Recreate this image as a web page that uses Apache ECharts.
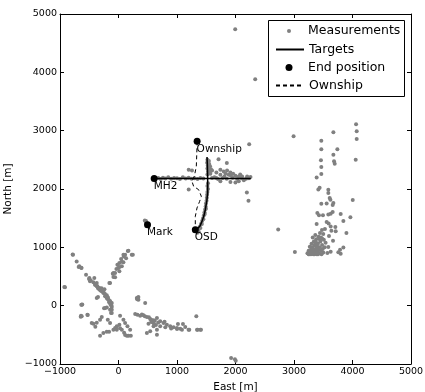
<!DOCTYPE html>
<html><head><meta charset="utf-8">
<script src="https://cdn.jsdelivr.net/npm/echarts@6/dist/echarts.min.js"></script>
<style>html,body{margin:0;padding:0;background:#fff}#c{width:425px;height:392px}</style>
</head><body><div id="c"></div>
<script>
// ---- data ----
const xTickValues = [-1000, 0, 1000, 2000, 3000, 4000, 5000];
const yTickValues = [-1000, 0, 1000, 2000, 3000, 4000, 5000];

const measLeft = [
 [-915,314],[-926,320],[-778,874],[-784,879],[-715,759],[-681,663],[-670,674],[-636,651],[-632,646],[-555,531],[-504,458],[-498,475],[-487,417],[-475,434],[-430,400],[-413,475],[-401,360],[-396,360],[-372,331],[-361,331],[-372,389],[-350,300],[-327,303],[-330,280],[-310,260],[-290,300],[-286,246],[-270,240],[-258,217],[-250,220],[-240,280],[-230,200],[-229,160],[-220,160],[-201,131],[-200,180],[-190,120],[-180,140],[-172,103],[-170,100],[-160,60],[-150,80],[-144,74],[-140,30],[-132,17],[-130,50],[-120,0],[-115,46],[-350,149],[-372,131],[-247,-46],[-229,-40],[-200,-30],[-115,-23],[-144,-69],[-115,-69],[-115,-126],[-127,-126],[-636,17],[-629,17],[-619,22],[-646,-189],[-629,-183],[-641,-171],[-526,-160],[-532,-154],[-458,-297],[-430,-309],[-396,-360],[-372,-291],[-315,-240],[-286,-194],[-315,-514],[-259,-468],[-201,-446],[-161,-446],[-183,-240],[-144,-297],[-87,-411],[-58,-382],[-29,-354],[-29,-411],[27,-389],[57,-411],[96,-463],[113,-503],[142,-514],[170,-514],[211,-514],[27,-171],[84,-240],[113,-297],[15,-326],[153,-354],[199,-411]
];
const measArm = [
 [159,937],[170,943],[113,874],[84,874],[227,874],[245,874],[91,845],[45,800],[130,811],[57,754],[84,743],[15,731],[15,663],[57,674],[-2,646],[-19,703],[-36,629],[15,589],[-58,560],[-87,560],[-98,549],[-87,491],[-58,486],[-144,389],[-156,389]
];
const measSouth = [
 [285,-142],[324,-154],[370,-171],[427,-166],[400,-150],[450,-180],[485,-194],[520,-200],[542,-228],[560,-240],[599,-251],[620,-260],[657,-211],[680,-290],[713,-269],[770,-297],[787,-274],[827,-326],[884,-354],[941,-371],[999,-382],[1056,-394],[1141,-365],[1198,-411],[1342,-411],[1399,-411],[1353,-411],[1410,-411],[1330,-183],[1210,-411],[1016,-314],[1102,-314],[713,-354],[800,-370],[900,-390],[1000,-400],[1085,-411],[313,131],[331,131],[341,103],[340,150],[320,110],[456,46],[513,-309],[560,-280],[600,-300],[599,-354],[640,-330],[657,-411],[542,-440],[657,-497],[485,-468],[1925,-897],[1990,-920],[2004,-943]
];
const measMH2 = [
 [680,2190],[720,2170],[760,2195],[800,2180],[850,2200],[900,2175],[950,2190],[1000,2185],[1050,2170],[1100,2200],[1150,2180],[1200,2195],[1250,2175],[1300,2185],[1350,2170],[1400,2190],[1450,2180],[1200,2330],[1256,2318],[1200,1990],
 [1599,2319],[1673,2285],[1741,2331],[1799,2302],[1856,2319],[1913,2285],[1959,2262],[1884,2245],[1999,2228],[2056,2216],[2113,2216],[2199,2216],[2256,2205],[1741,2131],[1913,2119],[1999,2113],[2056,2131],[2142,2148],[1599,2188],[1673,2188],[1741,2245],[1810,2216],[1640,2200],[1700,2170],[1780,2190],[1850,2175],[1950,2195],[2030,2170],[2100,2190],[2180,2175],[2230,2185],[1710,2512],[1852,2444],[2194,1941],[2222,1799],[1830,2260],[1920,2230],[2080,2250]
];
const measOSD = [
 [1520,2500],[1545,2480],[1515,2450],[1550,2430],[1525,2400],[1565,2390],[1520,2350],[1550,2350],[1580,2340],[1530,2300],[1560,2290],[1520,2250],[1570,2260],[1530,2100],[1520,2050],[1530,2000],[1520,1950],[1515,1900],[1510,1850],[1505,1800],[1495,1750],[1490,1700],[1480,1650],[1470,1600],[1460,1550],[1445,1500],[1430,1450],[1410,1400],[1385,1350],[1360,1300],[1340,1270],[1370,1270],[1400,1330],[1425,1400],[1450,1480],[1475,1570],[1495,1660],[1350,1250],[1330,1290]
];
const measMark = [
 [450,1460],[465,1440],[480,1420],[490,1400],[500,1390],[470,1450],[510,1370]
];
const measEast = [
 [4061,3108],[4072,2988],[4072,2857],[3673,2971],[3467,2828],[3467,2680],[3741,2680],[3673,2588],[3684,2474],[3696,2434],[3461,2492],[4055,2503],[3467,2377],[3467,2257],[3387,2199],[3416,1993],[3438,2022],[3587,1988],[3587,1931],[3610,1846],[3622,1817],[3673,1760],[3467,1748],[3558,1753],[3661,1725],[4004,1811],[3399,1589],[3427,1548],[3495,1548],[3587,1565],[3627,1577],[3661,1605],[3798,1571],[3964,1514],[3844,1451],[3387,1400],[3558,1434],[3592,1410],[3478,1297],[3529,1314],[3444,1246],[3627,1359],[3639,1286],[3707,1349],[3713,1274],[3896,1246],[3364,1211],[3598,1194],[3667,1114],[3844,999],[3787,960],[3758,914],[3798,892],[3587,1006],[3627,926],[3570,904],[3015,920],[2730,1307],[2993,2906],[2234,2769],[2337,3883],[1995,4740],
 [3230,900],[3250,940],[3260,880],[3280,920],[3290,960],[3300,890],[3310,1000],[3320,930],[3330,880],[3340,960],[3350,1030],[3360,900],[3370,940],[3380,990],[3390,880],[3400,920],[3410,1060],[3420,960],[3430,900],[3440,1000],[3450,1100],[3460,940],[3470,880],[3480,1040],[3490,970],[3500,910],[3510,1130],[3525,1000],[3270,1010],[3300,1060],[3340,1100],[3380,1140],[3420,1180],[3320,1170],[3400,1010],[3360,1050],[3440,1140],[3540,1080],[3250,880],[3290,880],[3350,880],[3410,880],[3460,1170],[3500,1230],[3480,1150],[3380,1080]
];
const targetMH2 = [[2262,2180],[610,2180]];
const targetOSD = [[1513,2548],[1520,2400],[1524,2187],[1524,1930],[1510,1800],[1484,1645],[1460,1540],[1427,1445],[1390,1360],[1330,1300]];
const targetMark = [[470,1430],[496,1388]];
const endNames = ['MH2', 'Mark', 'OSD', 'Ownship'];
const endPoints = [[610,2180],[496,1388],[1313,1303],[1344,2817]];
const ownshipTrack = [[1344,2817],[1338,2600],[1330,2388],[1296,2217],[1256,2131],[1284,2046],[1370,1988],[1416,1874],[1387,1788],[1342,1675],[1313,1531],[1313,1360],[1313,1303]];

// ---- chart ----
const FONT = 'DejaVu Sans';
const minus = v => String(v).replace('-', '\u2212');
const measurements = [].concat(measLeft, measArm, measSouth, measMH2, measOSD, measMark, measEast);
const targets = [].concat(targetMH2, [[null, null]], targetOSD, [[null, null]], targetMark);
const endData = endNames.map((n, i) => ({ name: n, value: endPoints[i] }));

const baseAxis = {
  type: 'value', min: xTickValues[0], max: xTickValues[xTickValues.length - 1], interval: 1000,
  axisLine: { show: true, onZero: false, lineStyle: { color: '#000', width: 1 } },
  axisTick: { show: true, inside: true, length: 4, lineStyle: { color: '#000' } },
  splitLine: { show: false }
};
const chart = echarts.init(document.getElementById('c'), null, { renderer: 'canvas' });
chart.setOption({
  animation: false,
  backgroundColor: '#fff',
  grid: { left: 60, top: 14, right: 14, bottom: 28, containLabel: false, outerBoundsMode: 'none' },
  xAxis: [
    Object.assign({}, baseAxis, { position: 'bottom', name: 'East [m]', nameLocation: 'middle', nameGap: 13,
      nameTextStyle: { fontFamily: FONT, fontSize: 10.5, color: '#000' },
      axisLabel: { margin: 3, fontFamily: FONT, fontSize: 9.5, color: '#000', formatter: minus } }),
    Object.assign({}, baseAxis, { position: 'top', axisLabel: { show: false } })
  ],
  yAxis: [
    Object.assign({}, baseAxis, { min: yTickValues[0], max: yTickValues[yTickValues.length - 1], position: 'left', name: 'North [m]', nameLocation: 'middle', nameGap: 41,
      nameTextStyle: { fontFamily: FONT, fontSize: 10.5, color: '#000' },
      axisLabel: { margin: 3, fontFamily: FONT, fontSize: 9.5, color: '#000', formatter: minus } }),
    Object.assign({}, baseAxis, { min: yTickValues[0], max: yTickValues[yTickValues.length - 1], position: 'right', axisLabel: { show: false } })
  ],
  legend: [
    { data: ['Measurements'], left: 287, top: 23, padding: 0, itemWidth: 28, itemHeight: 4 },
    { data: ['Targets'], left: 275, top: 41.5, padding: 0, itemWidth: 28, itemHeight: 2, itemStyle: { opacity: 0 } },
    { data: ['End position'], left: 285.5, top: 59.5, padding: 0, itemWidth: 28, itemHeight: 7 },
    { data: ['Ownship'], left: 275, top: 77.5, padding: 0, itemWidth: 28, itemHeight: 2, itemStyle: { opacity: 0 } }
  ].map(l => Object.assign({ selectedMode: false, textStyle: { fontFamily: FONT, fontSize: 12.5, color: '#000', lineHeight: 16 } }, l)),
  graphic: [{ type: 'rect', shape: { x: 268.5, y: 20.5, width: 136, height: 76 }, style: { fill: '#fff', stroke: '#000', lineWidth: 1 }, z: 3 }],
  series: [
    { name: 'Measurements', type: 'scatter', data: measurements, symbol: 'circle', symbolSize: 4,
      itemStyle: { color: '#808080', opacity: 1 }, z: 2, silent: true },
    { name: 'Targets', type: 'line', data: targets, symbol: 'none', connectNulls: false,
      lineStyle: { color: '#000', width: 1.5 }, itemStyle: { color: '#000' }, z: 3, silent: true },
    { name: 'End position', type: 'scatter', data: endData, symbol: 'circle', symbolSize: 7,
      itemStyle: { color: '#000', opacity: 1 }, z: 5, silent: true,
      label: { show: true, formatter: '{b}', position: [3, 6], fontFamily: FONT, fontSize: 10.5, color: '#000', verticalAlign: 'top', align: 'left' } },
    { name: 'Ownship', type: 'line', data: ownshipTrack, symbol: 'none',
      lineStyle: { color: '#000', width: 1, type: [4, 3] }, itemStyle: { color: '#000' }, z: 4, silent: true }
  ]
});
</script></body></html>
